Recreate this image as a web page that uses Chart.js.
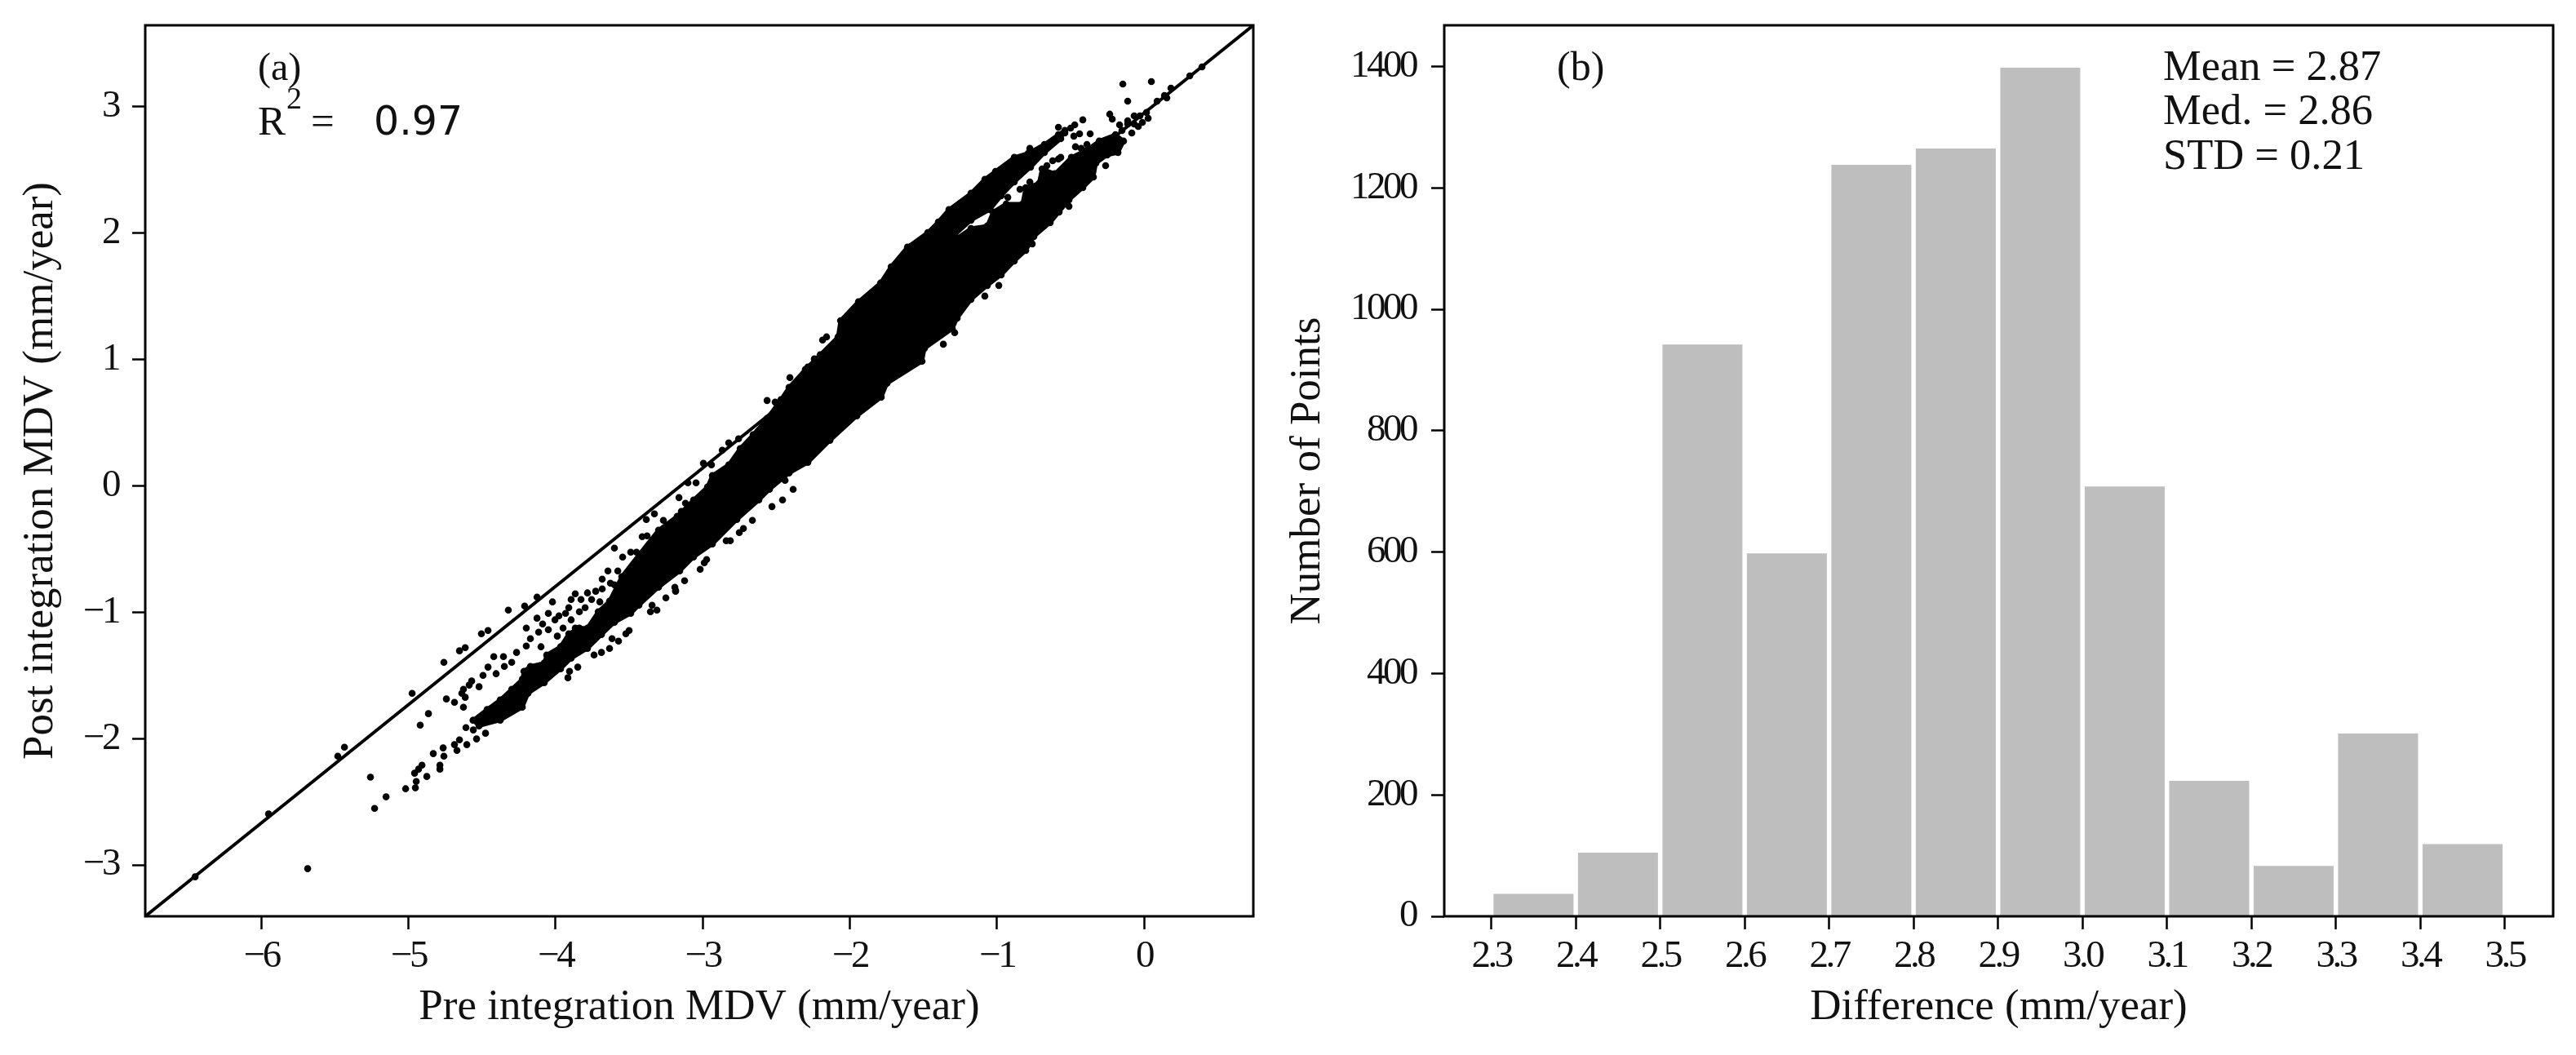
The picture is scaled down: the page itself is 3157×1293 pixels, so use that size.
<!DOCTYPE html>
<html>
<head>
<meta charset="utf-8">
<style>
html,body{margin:0;padding:0;background:#fff;width:3157px;height:1293px;overflow:hidden}
canvas{position:absolute;top:0}
#a{left:0}
#b{left:1550px}
</style>
<script src="https://cdn.jsdelivr.net/npm/chart.js@4"></script>
</head>
<body>
<canvas id="a" width="1550" height="1293"></canvas>
<canvas id="b" width="1607" height="1293"></canvas>
<script>
// ---------- panel (a) data (mm/year) ----------
const xRangeA = [-6.789, 0.743];
const yRangeA = [-3.406, 3.642];
const xTicksA = [-6, -5, -4, -3, -2, -1, 0];
const yTicksA = [-3, -2, -1, 0, 1, 2, 3];
const referenceLine = [[-6.789, -3.406], [0.743, 3.642]];

// outline of the part of the cloud that is solid black in the picture
const solidCloudOutline = [
[-4.56,-1.855],[-4.465,-1.77],[-4.376,-1.694],[-4.298,-1.61],[-4.226,-1.532],[-4.215,-1.468],[-4.171,-1.429],[-4.077,-1.403],
[-4.06,-1.339],[-3.966,-1.274],[-3.91,-1.171],[-3.838,-1.126],[-3.783,-1.126],[-3.71,-0.997],[-3.633,-0.913],[-3.55,-0.72],
[-3.433,-0.545],[-3.3,-0.352],[-3.173,-0.242],[-3.062,-0.113],[-2.967,-0.01],[-2.934,0.081],[-2.823,0.165],
[-2.745,0.294],[-2.657,0.403],[-2.562,0.532],[-2.468,0.681],[-2.413,0.777],[-2.302,0.919],[-2.202,1.035],[-2.08,1.177],
[-2.063,1.306],[-1.941,1.455],[-1.791,1.603],[-1.719,1.732],[-1.608,1.887],[-1.47,2.003],[-1.398,2.087],[-1.326,2.184],
[-1.176,2.313],[-1.082,2.423],[-1.009,2.487],[-0.882,2.597],[-0.788,2.629],[-0.677,2.7],[-0.582,2.777],[-0.538,2.81],
[-0.566,2.745],[-0.677,2.635],[-0.771,2.519],[-0.882,2.403],[-0.971,2.294],[-1.048,2.184],[-1.176,2.1],[-1.287,1.984],[-1.398,1.874],
[-1.27,1.958],[-1.176,2.035],[-1.065,2.055],[-1.026,2.165],[-0.937,2.229],[-0.826,2.229],[-0.804,2.358],[-0.715,2.39],[-0.693,2.506],
[-0.605,2.468],[-0.494,2.597],[-0.383,2.661],[-0.305,2.726],[-0.194,2.777],[-0.139,2.726],[-0.177,2.635],[-0.25,2.616],[-0.327,2.552],
[-0.344,2.442],[-0.416,2.358],[-0.51,2.261],[-0.638,2.081],[-0.749,1.971],[-0.804,1.861],[-0.882,1.777],[-0.971,1.668],[-1.065,1.584],
[-1.176,1.474],[-1.27,1.326],[-1.303,1.242],[-1.492,1.087],[-1.509,0.984],[-1.747,0.81],[-1.786,0.7],[-1.952,0.552],[-2.135,0.358],
[-2.285,0.184],[-2.413,0.1],[-2.546,-0.029],[-2.618,-0.113],[-2.768,-0.268],[-2.934,-0.461],[-3.062,-0.565],[-3.156,-0.674],[-3.3,-0.803],
[-3.433,-0.945],[-3.489,-1.01],[-3.6,-1.081],[-3.688,-1.177],[-3.783,-1.287],[-3.894,-1.365],[-3.966,-1.448],[-4.077,-1.558],[-4.187,-1.642],
[-4.226,-1.752],[-4.376,-1.855],[-4.52,-1.9],[-4.56,-1.855]
];

// individually visible points (pre, post)
const separatePoints = [
[-6.45,-3.094],[-5.951,-2.597],[-5.685,-3.029],[-5.48,-2.139],[-5.435,-2.068],
[-5.258,-2.306],[-5.152,-2.461],[-5.23,-2.552],[-5.019,-2.397],[-4.953,-2.39],[-4.947,-2.339],[-4.958,-2.274],[-4.931,-2.242],[-4.908,-2.21],
[-4.875,-2.3],[-4.786,-2.21],[-4.786,-2.242],[-4.831,-2.119],[-4.764,-2.074],[-4.759,-2.139],[-4.687,-2.048],[-4.653,-2.01],[-4.67,-2.094],
[-4.603,-2.048],[-4.609,-1.913],[-4.537,-2.003],[-4.476,-1.958],[-4.559,-1.932],[-4.864,-1.803],[-4.92,-1.894],[-4.742,-1.687],[-4.687,-1.713],
[-4.626,-1.752],[-4.637,-1.642],[-4.614,-1.674],[-4.626,-1.61],[-4.57,-1.545],[-4.52,-1.59],[-4.587,-1.577],[-4.493,-1.5],[-4.459,-1.435],
[-4.404,-1.487],[-4.42,-1.352],[-4.354,-1.352],[-4.348,-1.429],[-4.298,-1.397],[-4.265,-1.319],[-4.199,-1.268],[-4.171,-1.21],[-4.199,-1.126],
[-4.099,-1.274],[-4.126,-1.048],[-4.021,-0.919],[-4.759,-1.397],[-4.653,-1.306],[-4.614,-1.281],[-4.504,-1.171],[-4.459,-1.145],[-4.975,-1.642],
[-4.321,-0.984],[-4.21,-0.952],[-4.126,-0.881],[-3.738,-1.339],[-3.688,-1.319],[-3.633,-1.287],[-3.616,-1.21],[-3.572,-1.229],[-3.522,-1.171],
[-3.5,-1.145],[-3.355,-0.997],[-3.311,-0.984],[-3.344,-0.945],[-3.25,-0.887],[-3.184,-0.829],[-3.916,-1.519],[-3.905,-1.468],[-3.849,-1.435],
[-4.115,-1.158],[-4.088,-1.094],[-4.049,-1.139],[-4.004,-1.061],[-4.049,-1.01],[-3.977,-1.029],[-3.949,-1.126],[-3.988,-1.19],[-3.932,-1.01],
[-3.91,-0.965],[-3.894,-0.9],[-3.866,-0.855],[-3.827,-0.9],[-3.799,-0.965],[-3.838,-0.997],[-3.894,-1.061],[-3.866,-1.126],[-3.783,-0.848],
[-3.727,-0.835],[-3.683,-0.816],[-3.627,-0.771],[-3.755,-0.9],[-3.699,-0.919],[-3.644,-0.674],[-3.683,-0.739],
[-3.544,-0.565],[-3.577,-0.674],[-3.489,-0.526],[-3.45,-0.526],[-3.6,-0.784],[-3.6,-0.494],
[-1.364,1.119],[-1.287,1.21],[-2.44,0.042],[-2.385,-0.029],[-2.457,-0.113],[-2.529,-0.165],[-2.662,-0.274],[-2.723,-0.339],[-2.751,-0.371],
[-2.812,-0.435],[-2.84,-0.435],[-2.973,-0.584],[-2.989,-0.61],[-3.017,-0.661],[-3.123,-0.752],[-3.189,-0.803],[-3.184,-0.835],
[-2.562,0.674],[-2.507,0.661],[-2.407,0.855],[-2.341,0.829],[-2.285,0.939],[-2.241,1.003],[-2.185,1.152],[-2.135,1.087],[-2.158,1.177],
[-2.823,0.339],[-2.756,0.371],[-2.867,0.281],[-2.995,0.177],[-2.94,0.165],[-3.1,0.023],[-3.045,0.023],[-3.161,-0.094],[-3.117,-0.139],
[-3.145,-0.203],[-3.078,-0.203],[-3.328,-0.223],[-3.383,-0.268],[-3.411,-0.403],[-3.378,-0.397],[-3.267,-0.274],
[-0.144,3.177],[0.05,3.197],[-0.111,3.042],[-0.233,2.939],[-0.216,2.9],[-0.166,2.855],[-0.15,2.81],[-0.111,2.887],[-0.067,2.926],[-0.028,2.926],
[0.017,2.952],[0.028,2.906],[-0.039,2.842],[-0.083,2.79],[-0.111,2.861],[-0.067,2.861],[-0.011,2.874],[-0.416,2.894],[-0.471,2.855],[-0.499,2.829],
[-0.582,2.835],[-0.538,2.79],[-0.477,2.765],[-0.438,2.784],[-0.366,2.784],[-0.776,2.668],[-0.261,2.532],[-0.466,2.681],[-0.388,2.7],[-0.427,2.668],
[-0.582,2.584],[-0.621,2.571],[-0.566,2.597],[-0.51,2.21],[-0.577,2.165],[-0.76,1.913],[0.089,3.042],[0.139,3.087],[0.183,3.145],[0.311,3.242],
[0.394,3.313],[0.155,3.068],[-0.926,2.281],[-0.776,2.403],[-0.66,2.532],[-0.843,2.345],[-0.688,2.468],[-0.987,1.584],[-1.082,1.5],[-1.581,1.894]
];

// ---------- panel (b) data ----------
const xRangeB = [2.2443, 3.5573];
const yRangeB = [0, 1468];
const xTicksB = [2.3, 2.4, 2.5, 2.6, 2.7, 2.8, 2.9, 3.0, 3.1, 3.2, 3.3, 3.4, 3.5];
const yTicksB = [0, 200, 400, 600, 800, 1000, 1200, 1400];
const binCenters = [2.35, 2.45, 2.55, 2.65, 2.75, 2.85, 2.95, 3.05, 3.15, 3.25, 3.35, 3.45];
const binCounts = [37, 105, 942, 598, 1238, 1265, 1398, 708, 223, 83, 301, 119];

// ---------- text ----------
const serif = '"Liberation Serif"';
const sans = '"DejaVu Sans"';
const textA = [
  {t:'(a)', x:316, y:98, f:'48px '+serif},
  {t:'R', x:316, y:165, f:'51px '+serif},
  {t:'2', x:351, y:133, f:'38px '+serif},
  {t:'=', x:381, y:165, f:'51px '+serif},
  {t:'0.97', x:458, y:165, f:'49px '+sans}
];
const textB = [
  {t:'(b)', x:358, y:98, f:'50px '+serif},
  {t:'Mean = 2.87', x:1101, y:98, f:'52.5px '+serif},
  {t:'Med. = 2.86', x:1101, y:152, f:'52.5px '+serif},
  {t:'STD = 0.21', x:1101, y:207, f:'52.5px '+serif}
];

// ---------- shared setup ----------
Chart.defaults.animation = false;
Chart.defaults.color = '#000';
Chart.defaults.font.family = serif;

const framePlugin = {
  id:'frame',
  beforeDraw(chart){
    for (const s of Object.values(chart.scales)) {
      if (s._spaced) continue;
      const orig = s.drawLabels.bind(s);
      s.drawLabels = function(area){
        chart.ctx.save();
        chart.ctx.letterSpacing = '-3.5px';
        orig(area);
        chart.ctx.restore();
      };
      s._spaced = true;
    }
  },
  afterDraw(chart,args,opts){
    const {ctx,chartArea:c} = chart;
    ctx.save();
    ctx.strokeStyle='#000';
    ctx.lineWidth=3;
    ctx.strokeRect(c.left,c.top,c.right-c.left,c.bottom-c.top);
    ctx.fillStyle='#111';
    ctx.textAlign='left';
    ctx.textBaseline='alphabetic';
    for(const a of opts.items){ ctx.font=a.f; ctx.fillText(a.t,a.x,a.y); }
    ctx.restore();
  }
};

function axis(range,ticks,title,fixed,titlePad,tickPad,fmt){
  return {
    type:'linear', min:range[0], max:range[1], offset:false,
    afterBuildTicks(s){ s.ticks = ticks.map(v=>({value:v})); },
    afterFit(s){
      if(s.isHorizontal()) s.height=fixed; else s.width=fixed;
      s.paddingLeft=s.paddingRight=s.paddingTop=s.paddingBottom=0;
    },
    grid:{display:true, drawOnChartArea:false, drawTicks:true, tickLength:16, tickWidth:2.5, tickColor:'#000', offset:false},
    border:{display:false},
    ticks:{autoSkip:false, maxRotation:0, minRotation:0, padding:tickPad, color:'#111', font:{size:47,family:serif}, callback:fmt},
    title:{display:true, text:title, color:'#111', font:{size:53,family:serif}, padding:titlePad}
  };
}
const minusFmt = v => String(v).replace('-','\u2212');

new Chart(document.getElementById('a'),{
  type:'scatter',
  data:{datasets:[
    {label:'Points', data:separatePoints.map(p=>({x:p[0],y:p[1]})), backgroundColor:'#000', borderColor:'#000', pointRadius:4.3, pointBorderWidth:0, showLine:false},
    {label:'Solid part of cloud', data:solidCloudOutline.map(p=>({x:p[0],y:p[1]})), showLine:true, fill:'shape', pointRadius:4.3, pointBorderWidth:0, pointBackgroundColor:'#000', backgroundColor:'#000', borderColor:'#000', borderWidth:5, borderJoinStyle:'round', tension:0},
    {label:'Reference line', data:referenceLine.map(p=>({x:p[0],y:p[1]})), showLine:true, pointRadius:0, borderColor:'#000', borderWidth:4, tension:0}
  ]},
  options:{
    responsive:false, devicePixelRatio:1,
    layout:{autoPadding:false, padding:{top:31,right:14,left:0,bottom:0}},
    scales:{
      x:axis(xRangeA,xTicksA,'Pre integration MDV (mm/year)',170,{bottom:26},5,minusFmt),
      y:axis(yRangeA,yTicksA,'Post integration MDV (mm/year)',178,{top:18},17,minusFmt)
    },
    plugins:{legend:{display:false},tooltip:{enabled:false},frame:{items:textA}}
  },
  plugins:[framePlugin]
});

new Chart(document.getElementById('b'),{
  type:'bar',
  data:{datasets:[{
    label:'Number of Points',
    data:binCenters.map((c,i)=>({x:c,y:binCounts[i]})),
    backgroundColor:'#bebebe', borderWidth:0,
    categoryPercentage:1, barPercentage:0.947
  }]},
  options:{
    responsive:false, devicePixelRatio:1,
    layout:{autoPadding:false, padding:{top:31,right:28,left:0,bottom:0}},
    scales:{
      x:axis(xRangeB,xTicksB,'Difference (mm/year)',170,{bottom:26},5,v=>v.toFixed(1)),
      y:axis(yRangeB,yTicksB,'Number of Points',220,{top:21},19,v=>String(v))
    },
    plugins:{legend:{display:false},tooltip:{enabled:false},frame:{items:textB}}
  },
  plugins:[framePlugin]
});
</script>
</body>
</html>
